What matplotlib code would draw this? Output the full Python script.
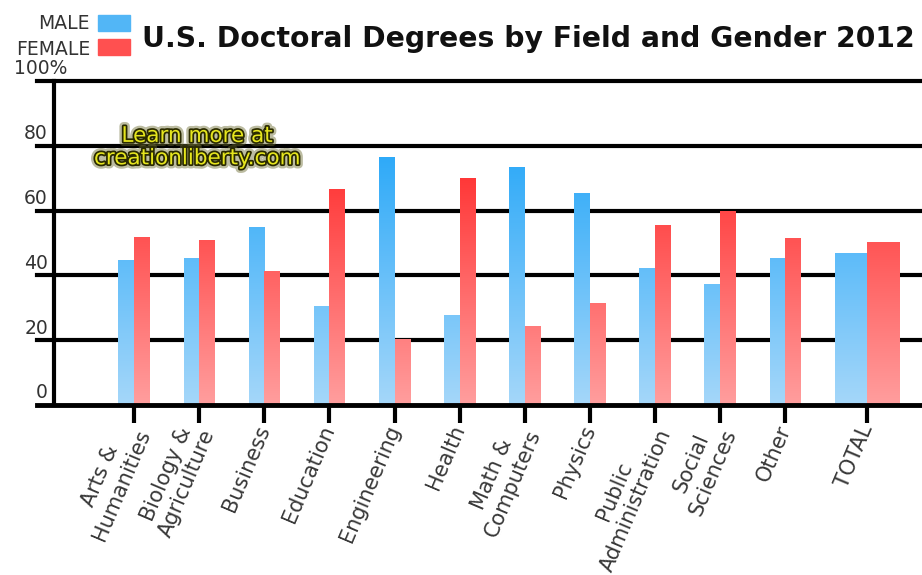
import numpy as np
import matplotlib
matplotlib.use("Agg")
import matplotlib.pyplot as plt
from matplotlib import patheffects
from matplotlib.patches import Rectangle

# data (percent of doctoral degrees)
fields = ["Arts &\nHumanities", "Biology &\nAgriculture", "Business", "Education",
          "Engineering", "Health", "Math &\nComputers", "Physics",
          "Public\nAdministration", "Social\nSciences", "Other", "TOTAL"]
male = [44.7, 45.5, 55.0, 30.6, 76.6, 27.8, 73.5, 65.5, 42.4, 37.3, 45.5, 46.8]
female = [51.9, 50.9, 41.5, 66.7, 20.4, 70.0, 24.4, 31.4, 55.6, 60.0, 51.4, 50.4]
yticks = [0, 20, 40, 60, 80]

# gradient colours (bottom at 0, top at 100)
blue_lo, blue_hi = (165, 215, 250), (10, 156, 248)
red_lo, red_hi = (255, 158, 158), (255, 12, 12)


def gradient(lo, hi):
    t = np.linspace(0, 1, 256)[:, None]
    c = np.array(lo) + (np.array(hi) - np.array(lo)) * t
    return (c / 255.0)[:, None, :]


fig = plt.figure(figsize=(9.22, 5.75), dpi=100)
ax = fig.add_axes([54 / 922, 1 - 405 / 575, 1 - 54 / 922, 324 / 575])

x = np.arange(len(fields), dtype=float)
x[-1] = 11.26
width = np.array([0.24] * (len(fields) - 1) + [0.5])

mbars = ax.bar(x - width / 2, male, width, color="none", linewidth=0, zorder=3)
fbars = ax.bar(x + width / 2, female, width, color="none", linewidth=0, zorder=3)

for bars, lo, hi in [(mbars, blue_lo, blue_hi), (fbars, red_lo, red_hi)]:
    g = gradient(lo, hi)
    for p in bars:
        im = ax.imshow(g, extent=[p.get_x(), p.get_x() + p.get_width(), 0, 100],
                       origin="lower", aspect="auto", zorder=3, interpolation="bilinear")
        im.set_clip_path(p)

ax.set_xlim(-1.229, 12.10)
ax.set_ylim(0, 100)

# grid lines extending a little left of the axis
for v in [20, 40, 60, 80, 100]:
    ax.axhline(v, xmin=-0.02, xmax=1, color="black", lw=3, clip_on=False, zorder=1)
ax.axhline(0, xmin=-0.02, xmax=1, color="black", lw=3.5, clip_on=False, zorder=4)

for s in ["top", "right", "bottom"]:
    ax.spines[s].set_visible(False)
ax.spines["left"].set_linewidth(3)
ax.spines["left"].set_zorder(4)

ax.set_yticks([])
for v in yticks:
    ax.text(-0.007, v + 0.8, str(v), transform=ax.get_yaxis_transform(),
            ha="right", va="bottom", fontsize=13.5, color="#333333")
ax.text(0.015, 100.8, "100%", transform=ax.get_yaxis_transform(),
        ha="right", va="bottom", fontsize=13.5, color="#333333")

ax.set_xticks(x)
ax.set_xticklabels(fields, rotation=67, ha="right", va="center",
                   rotation_mode="anchor", multialignment="center")
ax.tick_params(axis="x", length=13, width=3, color="black", pad=2,
               labelsize=15, labelcolor="#383838")

# watermark
ax.text(0.97, 79.6, "Learn more at\ncreationliberty.com", ha="center", va="center",
        fontsize=15.5, color="#e6e61e", linespacing=1.15, zorder=5,
        path_effects=[patheffects.withStroke(linewidth=6, foreground="#6b6b30", alpha=0.45),
                      patheffects.withStroke(linewidth=2.5, foreground="#2a2a00")])

# title and legend
fig.text(142 / 922, 1 - 47 / 575, "U.S. Doctoral Degrees by Field and Gender 2012",
         ha="left", va="baseline", fontsize=20.3, fontweight="bold", color="#111111")
fig.text(90 / 922, 1 - 29 / 575, "MALE", ha="right", va="baseline",
         fontsize=13.5, color="#333333")
fig.text(90 / 922, 1 - 55 / 575, "FEMALE", ha="right", va="baseline",
         fontsize=13.5, color="#333333")
fig.patches.append(Rectangle((98 / 922, 1 - 31 / 575), 32 / 922, 16 / 575,
                             transform=fig.transFigure, color="#52b6f6"))
fig.patches.append(Rectangle((98 / 922, 1 - 55 / 575), 32 / 922, 16 / 575,
                             transform=fig.transFigure, color="#ff5050"))

fig.savefig("out.png", dpi=100)
